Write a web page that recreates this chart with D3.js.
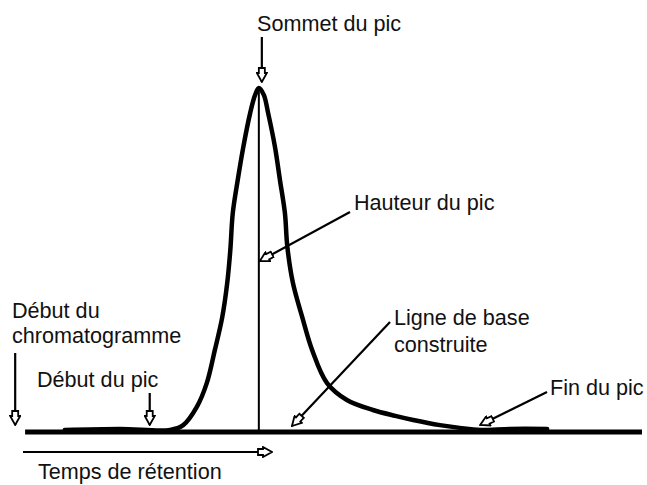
<!DOCTYPE html>
<html>
<head>
<meta charset="utf-8">
<script src="https://cdn.jsdelivr.net/npm/d3@7"></script>
<style>
  html, body { margin: 0; padding: 0; background: #fff; }
  svg { display: block; }
  text { font-family: "Liberation Sans", Arial, sans-serif; font-size: 21.6px; fill: #111; }
</style>
</head>
<body>
<svg id="chart" width="647" height="485"></svg>
<script>
// ---- data ----
// retention time (arbitrary units) and detector signal (% of peak height)
const time   = [6.9, 15.8, 23.9, 26.0, 28.2, 29.8, 31.1, 32.3, 33.1, 33.6, 34.0, 34.8, 35.7, 36.8, 37.6, 38.2, 39.0, 39.7, 40.8, 41.6, 42.4, 42.8, 43.7, 45.2, 46.8, 49.2, 52.4, 56.6, 60.2, 63.1, 67.4, 70.6, 73.9, 78.7, 84.7];
const signal = [0.6, 0.9, 0.6, 2.0, 7.3, 14.2, 23.8, 33.4, 43.3, 52.9, 63.7, 73.3, 82.9, 92.7, 98.0, 100, 98.0, 92.7, 82.9, 73.3, 63.7, 53.8, 43.3, 33.4, 23.8, 14.2, 9.3, 6.4, 4.7, 3.5, 2.0, 1.2, 0.6, 0.9, 0.9];
const baselineTime = [0.5, 100];
const eventNames = ["Début du chromatogramme", "Début du pic", "Sommet du pic", "Fin du pic"];
const eventTimes = [-1.1, 20.6, 38.2, 73.9];
const labels = {
  chromStart: ["Début du", "chromatogramme"],
  peakStart: ["Début du pic"],
  apex: ["Sommet du pic"],
  height: ["Hauteur du pic"],
  baseline: ["Ligne de base", "construite"],
  peakEnd: ["Fin du pic"],
  retention: ["Temps de rétention"]
};

// ---- scales ----
const svg = d3.select("#chart");
const x = d3.scaleLinear().domain([0, 100]).range([22, 642]);
const y = d3.scaleLinear().domain([0, 100]).range([432, 88]);

// arrow marker (hollow head)
const defs = svg.append("defs");
defs.append("marker")
  .attr("id", "arr")
  .attr("markerUnits", "userSpaceOnUse")
  .attr("viewBox", "0 -6 16 12")
  .attr("markerWidth", 16).attr("markerHeight", 12)
  .attr("refX", 15).attr("refY", 0)
  .attr("orient", "auto")
  .append("path")
  .attr("d", "M1,-3 L6,-3 L6,-5 L15,0 L6,5 L6,3 L1,3 Z")
  .attr("fill", "#fff").attr("stroke", "#000").attr("stroke-width", 1.8);

// baseline
svg.append("line")
  .attr("x1", x(baselineTime[0])).attr("x2", x(baselineTime[1]))
  .attr("y1", y(0)).attr("y2", y(0))
  .attr("stroke", "#000").attr("stroke-width", 5);

// chromatogram signal
const pts = time.map((t, i) => [t, signal[i]]);
svg.append("path")
  .datum(pts)
  .attr("d", d3.line().x(d => x(d[0])).y(d => y(d[1])).curve(d3.curveCatmullRom.alpha(0.5)))
  .attr("fill", "none").attr("stroke", "#000").attr("stroke-width", 4.5)
  .attr("stroke-linejoin", "round").attr("stroke-linecap", "round");

// peak height (vertical)
const apexT = eventTimes[2];
svg.append("line")
  .attr("x1", x(apexT)).attr("x2", x(apexT))
  .attr("y1", y(100)).attr("y2", y(0))
  .attr("stroke", "#000").attr("stroke-width", 2);

// annotation arrows
const arrows = [
  [x(eventTimes[0]), 353, x(eventTimes[0]), 425],       // Début du chromatogramme
  [x(eventTimes[1]), 393, x(eventTimes[1]), 425],       // Début du pic
  [x(apexT) + 3, 37, x(apexT) + 3, y(100) - 6],          // Sommet du pic
  [350, 212, x(apexT) + 1, y(50) + 1],                   // Hauteur du pic
  [390, 322, 292, 426],                                  // Ligne de base construite
  [547, 392, x(eventTimes[3]), 425],                     // Fin du pic
  [23, 452, 272, 452]                                    // Temps de rétention
];
svg.selectAll("line.arrow").data(arrows).join("line")
  .attr("class", "arrow")
  .attr("x1", d => d[0]).attr("y1", d => d[1])
  .attr("x2", d => d[2]).attr("y2", d => d[3])
  .attr("stroke", "#000").attr("stroke-width", 2.2)
  .attr("marker-end", "url(#arr)");

// labels
function label(lines, lx, ly, lh) {
  const t = svg.append("text").attr("x", lx).attr("y", ly);
  lines.forEach((s, i) => t.append("tspan").attr("x", lx).attr("dy", i === 0 ? 0 : lh).text(s));
}
label(labels.chromStart, 12, 318, 25);
label(labels.peakStart, 37, 387, 25);
label(labels.apex, 257, 31, 25);
label(labels.height, 354, 210, 25);
label(labels.baseline, 394, 325, 27);
label(labels.peakEnd, 550, 395, 25);
label(labels.retention, 38, 479, 25);
</script>
</body>
</html>
